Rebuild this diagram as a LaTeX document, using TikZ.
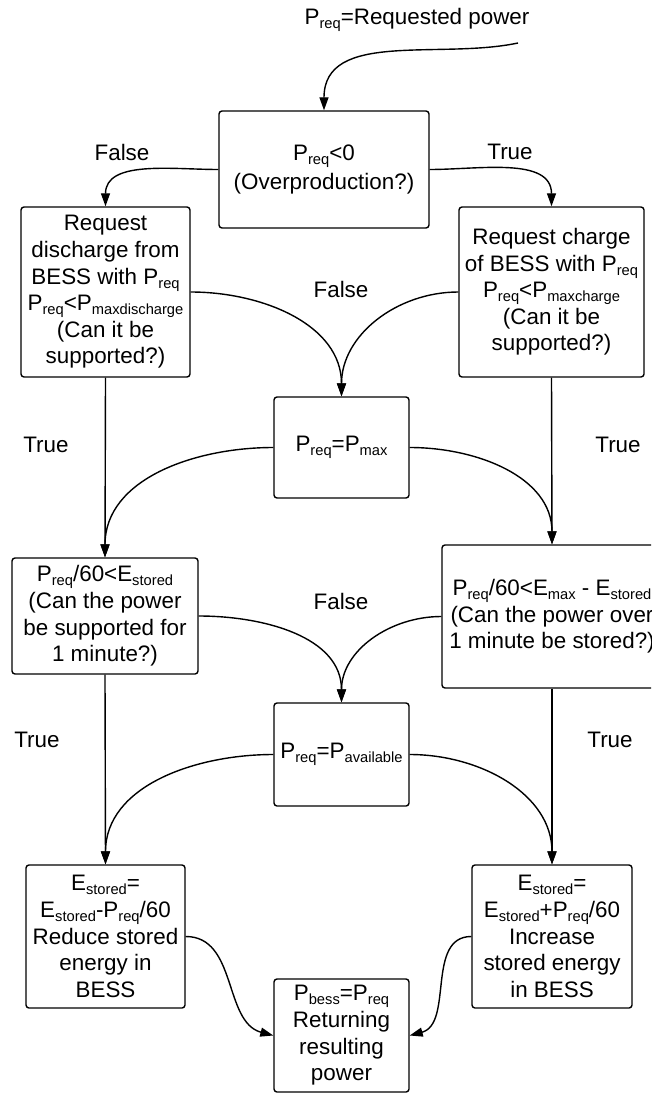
\documentclass[tikz,border=0pt]{standalone}
\usepackage{fontspec}
\setmainfont{Liberation Sans}
\usetikzlibrary{arrows.meta}
\newcommand{\lw}[1]{\raisebox{-4pt}{\fontsize{14.7}{14.7}\selectfont #1}}
\newcommand{\bigfs}{\fontsize{22.4}{26.6}\selectfont}
\tikzset{
  box/.style={draw, line width=1.4pt, rounded corners=3pt, align=center, inner sep=0pt, font=\bigfs},
  lbl/.style={font=\bigfs, inner sep=0pt},
  conn/.style={line width=1.4pt, -{Triangle[length=13pt,width=9pt]}},
  plain/.style={line width=1.4pt}
}
\begin{document}
\begin{tikzpicture}[x=1pt,y=1pt]
\useasboundingbox (0,0) rectangle (651,-1094);
\clip (0,0) rectangle (651,-1094);
% title
\node[lbl, anchor=base] (title) at (417,-24.5) {P\lw{req}=Requested power};
\coordinate (start) at (518,-43);
% boxes
\node[box, minimum width=210pt, minimum height=117pt] (A) at (324,-169.5) {P\lw{req}<0\\[3pt](Overproduction?)};
\node[box, minimum width=169pt, minimum height=170pt] (B) at (105.5,-292) {Request\\discharge from\\BESS with P\lw{req}\\P\lw{req}<P\lw{maxdischarge}\\(Can it be\\supported?)};
\node[box, minimum width=185pt, minimum height=170pt] (C) at (551.5,-292) {Request charge\\of BESS with P\lw{req}\\P\lw{req}<P\lw{maxcharge}\\(Can it be\\supported?)};
\node[box, minimum width=135pt, minimum height=101pt] (D) at (341.5,-447.5) {P\lw{req}=P\lw{max}};
\node[box, minimum width=186pt, minimum height=116pt] (E) at (105,-616) {P\lw{req}/60<E\lw{stored}\\(Can the power\\be supported for\\1 minute?)};
\node[box, minimum width=220pt, minimum height=143pt] (F) at (552,-616.5) {P\lw{req}/60<E\lw{max} - E\lw{stored}\\(Can the power over\\1 minute be stored?)};
\node[box, minimum width=135pt, minimum height=103pt] (G) at (341.5,-754.5) {P\lw{req}=P\lw{available}};
\node[box, minimum width=159pt, minimum height=143pt] (H) at (105.5,-936.5) {E\lw{stored}=\\E\lw{stored}-P\lw{req}/60\\Reduce stored\\energy in\\BESS};
\node[box, minimum width=160pt, minimum height=143pt] (I) at (552,-936.5) {E\lw{stored}=\\E\lw{stored}+P\lw{req}/60\\Increase\\stored energy\\in BESS};
\node[box, minimum width=135pt, minimum height=113pt] (J) at (341.5,-1035.5) {P\lw{bess}=P\lw{req}\\Returning\\resulting\\power};
% labels
\node[lbl] (f1) at (122,-152) {False};
\node[lbl] (t1) at (510,-152) {True};
\node[lbl] (f2) at (341,-289) {False};
\node[lbl] (t2l) at (46,-445) {True};
\node[lbl] (t2r) at (618,-445) {True};
\node[lbl] (f3) at (341,-601) {False};
\node[lbl] (t3l) at (37,-740) {True};
\node[lbl] (t3r) at (610,-740) {True};
% connectors
\draw[conn] (start) to[out=192,in=90] (A.north);
\draw[conn] (A.west) to[out=180,in=90] (B.north);
\draw[conn] (A.east) to[out=0,in=90] (C.north);
\draw[conn] (B.east) to[out=0,in=90] (D.north);
\draw[conn] (C.west) to[out=180,in=90] (D.north);
\draw[conn] (B.south) -- (E.north);
\draw[conn] (C.south) -- (F.north);
\draw[conn] (D.west) to[out=180,in=90] (E.north);
\draw[conn] (D.east) to[out=0,in=90] (F.north);
\draw[conn] (E.east) to[out=0,in=90] (G.north);
\draw[conn] (F.west) to[out=180,in=90] (G.north);
\draw[conn] (E.south) -- (H.north);
\draw[conn] (F.south) -- (I.north);
\draw[conn] (G.west) to[out=180,in=90] (H.north);
\draw[conn] (G.east) to[out=0,in=90] (I.north);
\draw[conn] (H.east) to[out=0,in=165] (J.west);
\draw[conn] (I.west) to[out=180,in=15] (J.east);
\end{tikzpicture}
\end{document}
